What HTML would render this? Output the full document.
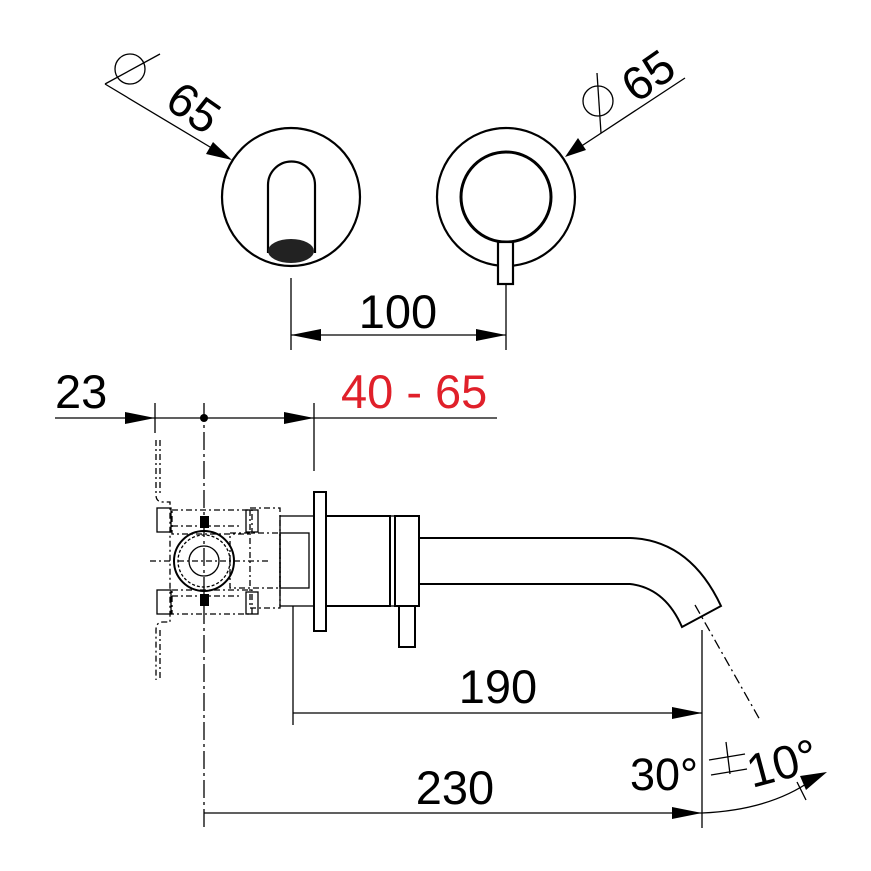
<!DOCTYPE html>
<html><head><style>html,body{margin:0;padding:0;background:#fff}svg{display:block}</style></head>
<body>
<svg width="871" height="871" viewBox="0 0 871 871" xmlns="http://www.w3.org/2000/svg" font-family="Liberation Sans, sans-serif">
<g fill="none" stroke="#000" stroke-width="2.2">
<circle cx="291" cy="197" r="69"/>
<path d="M268 253 V185 A23.5 23.5 0 0 1 315 185 V253"/>
<circle cx="506" cy="197" r="69"/>
<circle cx="506" cy="197" r="45" stroke-width="3"/>
<rect x="498" y="242" width="15" height="42" fill="#fff"/>
</g>
<ellipse cx="291" cy="251" rx="23" ry="12" fill="#222"/>
<g stroke="#000" stroke-width="1.3" fill="none">
<line x1="105" y1="84" x2="215" y2="150"/>
<circle cx="130" cy="69" r="15"/>
<line x1="105" y1="84" x2="160" y2="54"/>
<line x1="580" y1="147" x2="685" y2="78"/>
<circle cx="598" cy="101" r="15"/>
<line x1="597" y1="73" x2="601" y2="133"/>
</g>
<polygon points="232,160 206,154 213,142" fill="#000"/>
<polygon points="565,157 578,138 586,150" fill="#000"/>
<text x="0" y="0" font-size="47" transform="translate(163,106) rotate(35)">65</text>
<text x="0" y="0" font-size="47" transform="translate(636,104) rotate(-35)">65</text>
<g stroke="#000" stroke-width="1.3">
<line x1="291" y1="278" x2="291" y2="350"/>
<line x1="506" y1="285" x2="506" y2="350"/>
<line x1="291" y1="335" x2="506" y2="335"/>
</g>
<polygon points="291,335 321,329 321,341" fill="#000"/>
<polygon points="506,335 476,329 476,341" fill="#000"/>
<text x="398" y="328" font-size="47" text-anchor="middle">100</text>
<g stroke="#000" stroke-width="1.3">
<line x1="55" y1="418" x2="497" y2="418"/>
<line x1="155" y1="403" x2="155" y2="433"/>
<line x1="314" y1="403" x2="314" y2="471"/>
<line x1="204" y1="403" x2="204" y2="828" stroke-dasharray="18 4 3 4"/>
</g>
<circle cx="204" cy="418" r="4" fill="#000"/>
<polygon points="155,418 125,412 125,424" fill="#000"/>
<polygon points="314,418 284,412 284,424" fill="#000"/>
<text x="55" y="408" font-size="47">23</text>
<text x="341" y="408" font-size="47" fill="#e0202a">40 - 65</text>
<g fill="none" stroke="#000" stroke-width="1.3">
<g stroke-dasharray="6 3 2 3">
<path d="M156 440 V495 Q156 502 163 502 H170 V622 H163 Q156 622 156 630 V680"/>
<path d="M160 440 V495 M160 630 V680"/>
<rect x="172" y="510" width="80" height="24"/>
<rect x="172" y="590" width="80" height="24"/>
<line x1="172" y1="526" x2="240" y2="526"/>
<line x1="172" y1="596" x2="240" y2="596"/>
<rect x="230" y="533" width="50" height="55"/>
<rect x="250" y="508" width="30" height="100"/>
<line x1="150" y1="561" x2="270" y2="561"/>
</g>
<rect x="157" y="508" width="14" height="24"/>
<rect x="157" y="590" width="14" height="24"/>
<rect x="246" y="510" width="12" height="22"/>
<rect x="246" y="592" width="12" height="22"/>
<circle cx="204" cy="561" r="30" stroke-width="2"/>
<circle cx="204" cy="561" r="26" stroke-dasharray="3 2"/>
<circle cx="204" cy="561" r="15"/>
<rect x="280" y="516" width="34" height="90"/>
<rect x="280" y="533" width="29" height="55"/>
<rect x="314" y="492" width="12" height="139" stroke-width="2"/>
<path d="M326 516 H390 V606 H326" stroke-width="2"/>
<rect x="395" y="516" width="24" height="90" stroke-width="2"/>
<line x1="390" y1="516" x2="395" y2="516"/>
<line x1="390" y1="606" x2="395" y2="606"/>
<rect x="399" y="606" width="16" height="41" stroke-width="2"/>
<path d="M419 538 H630 Q690 540 721 606 L682 627 Q665 588 630 584 H419" stroke-width="2"/>
<line x1="293" y1="606" x2="293" y2="725"/>
<line x1="702" y1="630" x2="702" y2="828"/>
<line x1="695" y1="605" x2="760" y2="720" stroke-dasharray="10 4 2 4"/>
<line x1="293" y1="713" x2="702" y2="713"/>
<line x1="204" y1="813" x2="702" y2="813"/>
<path d="M702 813 Q770 810 812 780"/>
<line x1="797" y1="782" x2="806" y2="800"/>
</g>
<rect x="200" y="516" width="9" height="12" fill="#000"/>
<rect x="200" y="594" width="9" height="12" fill="#000"/>
<polygon points="702,713 672,707 672,719" fill="#000"/>
<polygon points="702,813 672,807 672,819" fill="#000"/>
<polygon points="827,772 806,790 800,776" fill="#000"/>
<text x="498" y="703" font-size="47" text-anchor="middle">190</text>
<text x="455" y="804" font-size="47" text-anchor="middle">230</text>
<text x="630" y="790" font-size="45">30°</text>
<text x="0" y="0" font-size="47" transform="translate(752,788) rotate(-15)">10°</text>
<g stroke="#000" stroke-width="1.3">
<line x1="709" y1="760" x2="745" y2="754"/>
<line x1="711" y1="775" x2="747" y2="769"/>
<line x1="726" y1="742" x2="730" y2="774"/>
</g>
</svg>
</body></html>
